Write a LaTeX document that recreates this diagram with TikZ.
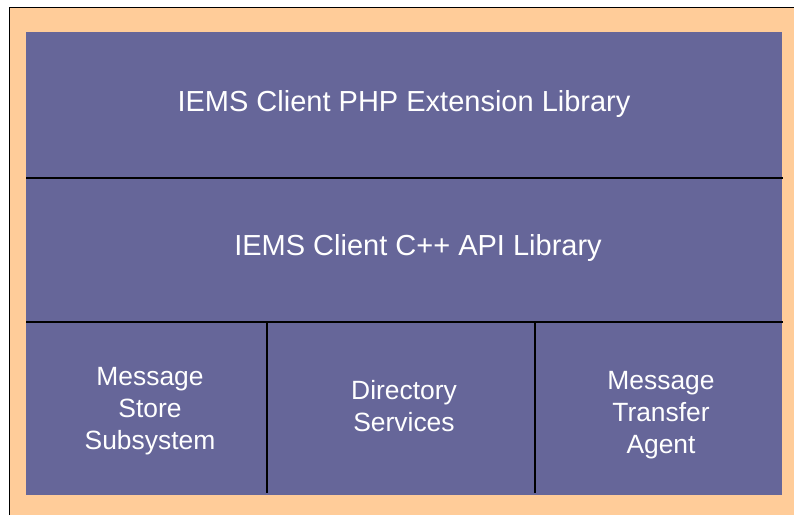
\documentclass[tikz,border=0pt]{standalone}
\usepackage{fontspec}
\setmainfont{Liberation Sans}
\definecolor{peach}{HTML}{FFCC99}
\definecolor{slate}{HTML}{666699}
\tikzset{
  layer/.style={text=white, font=\fontsize{29}{35}\selectfont},
  module/.style={text=white, align=center, font=\fontsize{26.4}{31.7}\selectfont},
  divider/.style={black, line width=2.4pt}
}
\begin{document}
\begin{tikzpicture}[x=1pt,y=-1pt]
        \useasboundingbox (0,0) rectangle (794,515);
        % Background and frame
        \fill[peach] (10,8) rectangle (794,515);
        \draw[black, line width=1.6pt] (9.5,515) -- (9.5,7.5) -- (794,7.5);
        \fill[slate] (26,32) rectangle (782,495);

        % Layer dividers
        \coordinate (l1w) at (26,178);
        \coordinate (l1e) at (783,178);
        \coordinate (l2w) at (26,322);
        \coordinate (l2e) at (783,322);
        \coordinate (s1t) at (267,322);
        \coordinate (s1b) at (267,493);
        \coordinate (s2t) at (535,322);
        \coordinate (s2b) at (535,493);
        \draw[divider] (l1w) -- (l1e);
        \draw[divider] (l2w) -- (l2e);
        \draw[divider] (s1t) -- (s1b);
        \draw[divider] (s2t) -- (s2b);

        % Labels
        \node[layer] (php) at (404,104) {IEMS Client PHP Extension Library};
        \node[layer] (capi) at (418,248) {IEMS Client C++ API Library};
        \node[module] (store) at (150,411) {Message\\Store\\Subsystem};
        \node[module] (dir) at (404,406) {Directory\\Services};
        \node[module] (mta) at (661,415) {Message\\Transfer\\Agent};
\end{tikzpicture}
\end{document}
